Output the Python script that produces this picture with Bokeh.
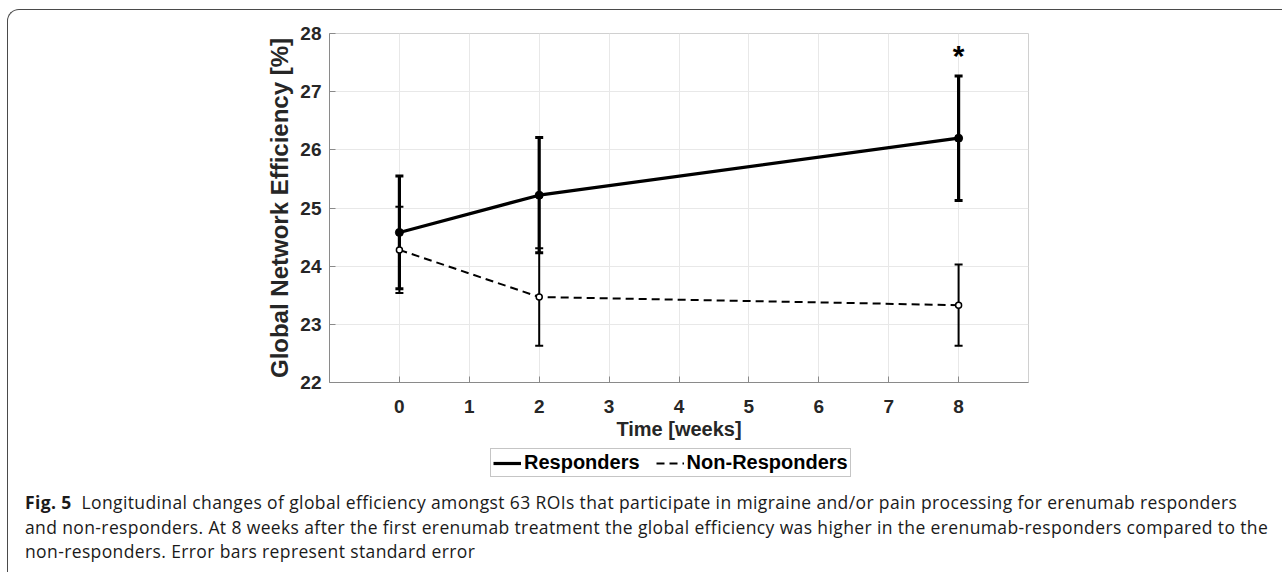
from bokeh.plotting import figure
from bokeh.layouts import column, row
from bokeh.models import (ColumnDataSource, Whisker, TeeHead, Legend, LegendItem,
                          Div, FixedTicker, Range1d)
from bokeh.core.properties import value
from bokeh.embed import file_html
from bokeh.resources import INLINE

# ---- data ----
weeks = [0, 2, 8]
resp_mean = [24.58, 25.22, 26.20]
resp_se = [0.97, 0.99, 1.07]
nonresp_mean = [24.28, 23.47, 23.33]
nonresp_se = [0.74, 0.84, 0.70]
x_ticks = [0, 1, 2, 3, 4, 5, 6, 7, 8]
y_ticks = [22, 23, 24, 25, 26, 27, 28]
star_week = [8]
star_y = [27.62]
star_text = ["*"]
series_names = ["Responders", "Non-Responders"]
x_label = "Time [weeks]"
y_label = "Global Network Efficiency [%]"
caption_bold = "Fig. 5"
caption_lines = [
    "Longitudinal changes of global efficiency amongst 63 ROIs that participate in migraine and/or pain processing for erenumab responders",
    "and non-responders. At 8 weeks after the first erenumab treatment the global efficiency was higher in the erenumab-responders compared to the",
    "non-responders. Error bars represent standard error",
]

resp_src = ColumnDataSource(dict(
    x=weeks, y=resp_mean,
    lo=[m - s for m, s in zip(resp_mean, resp_se)],
    hi=[m + s for m, s in zip(resp_mean, resp_se)]))
non_src = ColumnDataSource(dict(
    x=weeks, y=nonresp_mean,
    lo=[m - s for m, s in zip(nonresp_mean, nonresp_se)],
    hi=[m + s for m, s in zip(nonresp_mean, nonresp_se)]))

FONT = "Liberation Sans"
TXT = "#262626"
BOX = "#4a4a4a"

RESP_STYLE = dict(line_color="black", line_width=3.2)
NON_STYLE = dict(line_color="black", line_width=2, line_dash="8 5")

# ---- main chart ----
p = figure(width=1271, height=423, output_backend="svg", toolbar_location=None,
           x_range=Range1d(-1, 9), y_range=Range1d(22, 28),
           min_border_left=320, min_border_right=252,
           min_border_top=10, min_border_bottom=64, margin=0)
p.background_fill_color = "white"
p.border_fill_color = "white"
p.outline_line_color = "#d0d0d0"
p.outline_line_width = 1

for ax, ticks in ((p.xaxis, x_ticks), (p.yaxis, y_ticks)):
    ax.ticker = FixedTicker(ticks=ticks)
    ax.axis_line_color = "#8a8a8a"
    ax.major_tick_line_color = "#8a8a8a"
    ax.major_tick_in = 6
    ax.major_tick_out = 0
    ax.minor_tick_line_color = None
    ax.major_label_text_font = FONT
    ax.major_label_text_font_style = "bold"
    ax.major_label_text_font_size = "19px"
    ax.major_label_text_color = TXT
    ax.axis_label_text_font = FONT
    ax.axis_label_text_font_style = "bold"
    ax.axis_label_text_color = TXT

p.xaxis.axis_label = x_label
p.xaxis.axis_label_text_font_size = "20px"
p.xaxis.major_label_standoff = 17
p.xaxis.axis_label_standoff = 2
p.yaxis.axis_label = y_label
p.yaxis.axis_label_text_font_size = "24px"
p.yaxis.major_label_standoff = 8
p.yaxis.axis_label_standoff = 4

p.xgrid.ticker = FixedTicker(ticks=x_ticks)
p.ygrid.ticker = FixedTicker(ticks=y_ticks)
p.grid.grid_line_color = "#e8e8e8"
p.grid.grid_line_width = 1

# non-responders
p.line("x", "y", source=non_src, **NON_STYLE)
p.add_layout(Whisker(source=non_src, base="x", lower="lo", upper="hi",
                     dimension="height", line_color="black", line_width=2,
                     lower_head=TeeHead(size=8, line_width=2, line_color="black"),
                     upper_head=TeeHead(size=8, line_width=2, line_color="black")))
p.scatter("x", "y", source=non_src, size=6, marker="circle",
          line_color="black", fill_color="white", line_width=1.5)

# responders
p.line("x", "y", source=resp_src, **RESP_STYLE)
p.add_layout(Whisker(source=resp_src, base="x", lower="lo", upper="hi",
                     dimension="height", line_color="black", line_width=3.2,
                     lower_head=TeeHead(size=8, line_width=3, line_color="black"),
                     upper_head=TeeHead(size=8, line_width=3, line_color="black")))
p.scatter("x", "y", source=resp_src, size=8, marker="circle",
          line_color="black", fill_color="black")

p.text(x=star_week, y=star_y, text=star_text, text_align="center",
       text_baseline="middle", text_font=value(FONT), text_font_style="bold",
       text_font_size="30px", text_color="black")

# ---- legend strip: same series, same styles, ranges chosen so only the legend shows ----
lg = figure(width=1271, height=38, output_backend="svg", toolbar_location=None,
            x_axis_type=None, y_axis_type=None, min_border=0, margin=0,
            x_range=Range1d(-1, 9), y_range=Range1d(100, 101))
lg.grid.visible = False
lg.outline_line_color = None
lg.background_fill_color = "white"
lg.border_fill_color = "white"
lr = lg.line("x", "y", source=resp_src, **RESP_STYLE)
ln = lg.line("x", "y", source=non_src, **NON_STYLE)
legend = Legend(items=[LegendItem(label=series_names[0], renderers=[lr]),
                       LegendItem(label=series_names[1], renderers=[ln])],
                orientation="horizontal", location=(161, 7),
                label_text_font=FONT, label_text_font_style="bold",
                label_text_font_size="20px", label_text_color="black",
                border_line_color="#8c8c8c", border_line_width=1.2,
                background_fill_alpha=1, padding=2, margin=0, spacing=16,
                label_standoff=3, glyph_width=28, glyph_height=20,
                label_height=20)
lg.add_layout(legend, "center")

# ---- caption ----
cap_html = ("<b>" + caption_bold + "</b>&nbsp;&nbsp;" + caption_lines[0] + "<br>"
            + caption_lines[1] + "<br>" + caption_lines[2])
cap = Div(text=cap_html, width=1271, height=85, margin=0,
          styles={"font-family": "'Open Sans'", "font-size": "17.5px",
                  "letter-spacing": "0.38px",
                  "line-height": "24.5px", "color": "#1a1a1a",
                  "white-space": "nowrap", "padding-left": "16px",
                  "padding-top": "6px", "box-sizing": "border-box"})

# ---- outer rounded frame ----
top_edge = Div(text="", width=1275, height=14, margin=(9, 0, 0, 7),
               styles={"border-top": "1.5px solid " + BOX,
                       "border-left": "1.5px solid " + BOX,
                       "border-top-left-radius": "12px",
                       "box-sizing": "border-box"})
left_edge = Div(text="", width=2, height=549, margin=(0, 0, 0, 7),
                styles={"border-left": "1.5px solid " + BOX,
                        "box-sizing": "border-box"})

layout = column(top_edge,
                row(left_edge, column(p, lg, cap, spacing=0), spacing=0),
                spacing=0, margin=0)

open("out.html", "w").write(file_html(layout, INLINE))
